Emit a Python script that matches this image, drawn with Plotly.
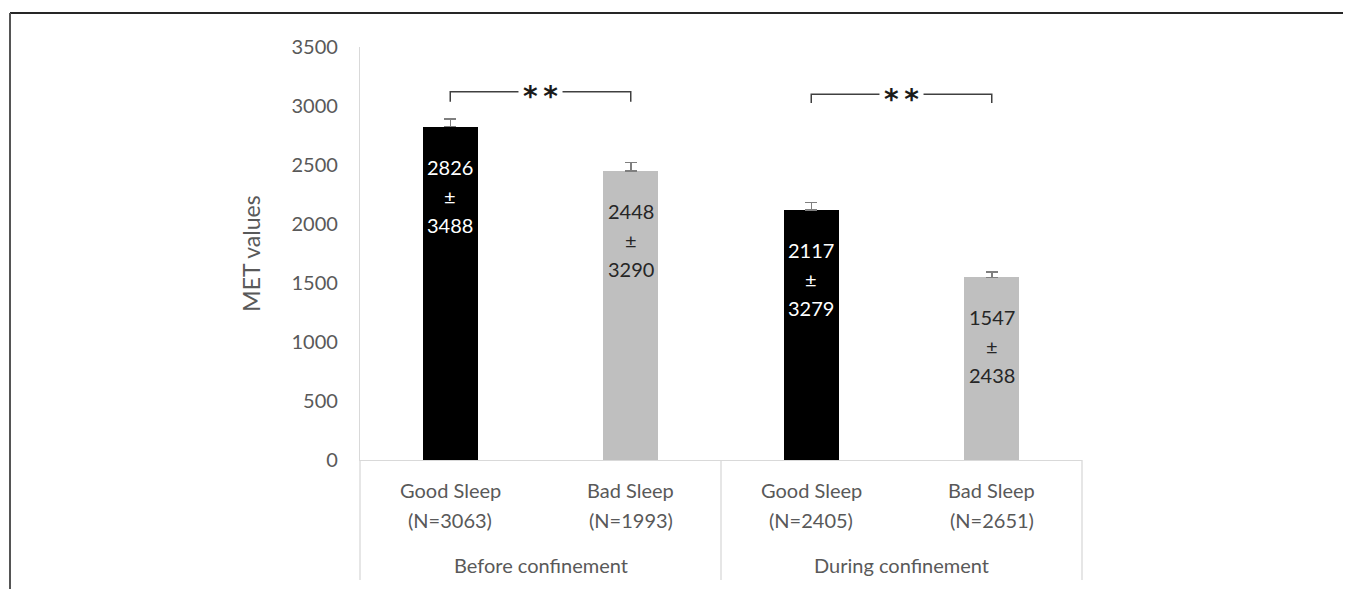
import plotly.graph_objects as go

# ---- data ----
groups = ["Before confinement", "During confinement"]
sleep_labels = ["Good Sleep", "Bad Sleep", "Good Sleep", "Bad Sleep"]
n_labels = ["(N=3063)", "(N=1993)", "(N=2405)", "(N=2651)"]
means = [2826, 2448, 2117, 1547]
sds = [3488, 3290, 3279, 2438]
err_plus = [63, 74, 67, 47]
bar_colors = ["#000000", "#bfbfbf", "#000000", "#bfbfbf"]
text_colors = ["#ffffff", "#262626", "#ffffff", "#262626"]
bracket_pairs = [(0, 1), (2, 3)]
bracket_top = [3120, 3100]
bracket_foot = [3035, 3025]
bracket_text = ["*\u2009*", "*\u2009*"]
y_ticks = [0, 500, 1000, 1500, 2000, 2500, 3000, 3500]

# ---- geometry (window pixels; page body has an 8px margin) ----
OFF = 8
WIN_W, WIN_H = 1351, 589
W, H = WIN_W - OFF, WIN_H - OFF
X0, X1, Y0, Y1 = 360, 1082, 47, 460   # plot area in window pixels
L, R = X0 - OFF, WIN_W - X1
T, B = Y0 - OFF, WIN_H - Y1
PW, PH = X1 - X0, Y1 - Y0


def px(x):
    return (x - X0) / PW


def py(y):
    return (Y1 - y) / PH


FONT = "Lato"
GREY = "#595959"
AXC = "#d9d9d9"

xs = list(range(len(means)))

fig = go.Figure(
    go.Bar(
        x=xs,
        y=means,
        width=0.305,
        marker=dict(color=bar_colors, line=dict(width=0)),
        error_y=dict(
            type="data",
            symmetric=False,
            array=err_plus,
            arrayminus=[0] * len(means),
            color="#7f7f7f",
            thickness=1.5,
            width=6,
        ),
        hoverinfo="skip",
    )
)

annotations = []
# text inside bars
for i, (m, s) in enumerate(zip(means, sds)):
    for txt, shift in ((str(m), -40), ("±", -69), (str(s), -98)):
        annotations.append(
            dict(
                x=i, y=m, xref="x", yref="y", text=txt, showarrow=False,
                yanchor="middle", xanchor="center", yshift=shift,
                font=dict(family=FONT, size=20, color=text_colors[i]),
            )
        )

# category labels
for i in xs:
    annotations.append(dict(x=i, y=py(490), xref="x", yref="paper", text=sleep_labels[i],
                            showarrow=False, yanchor="middle",
                            font=dict(family=FONT, size=20, color=GREY)))
    annotations.append(dict(x=i, y=py(520), xref="x", yref="paper", text=n_labels[i],
                            showarrow=False, yanchor="middle",
                            font=dict(family=FONT, size=20, color=GREY)))
for g, name in enumerate(groups):
    annotations.append(dict(x=2 * g + 0.5, y=py(565), xref="x", yref="paper", text=name,
                            showarrow=False, yanchor="middle",
                            font=dict(family=FONT, size=20, color=GREY)))

shapes = []
# significance brackets
for (a, b), top, foot, lab in zip(bracket_pairs, bracket_top, bracket_foot, bracket_text):
    shapes.append(dict(type="path", xref="x", yref="y",
                       path=f"M {a},{foot} L {a},{top} L {b},{top} L {b},{foot}",
                       line=dict(color="#404040", width=1.5)))
    shapes.append(dict(type="rect", xref="x", yref="y",
                       x0=(a + b) / 2 - 0.122, x1=(a + b) / 2 + 0.122,
                       y0=top - 20, y1=top + 20,
                       fillcolor="white", line=dict(width=0)))
    annotations.append(dict(x=(a + b) / 2, y=top, xref="x", yref="y",
                            text="<b>" + lab + "</b>", showarrow=False,
                            yanchor="middle", xanchor="center", yshift=-5,
                            font=dict(family="DejaVu Sans", size=28, color="#1a1a1a")))

# category axis dividers below the plot
for xv in (0, 0.5, 1):
    shapes.append(dict(type="line", xref="paper", yref="paper",
                       x0=xv, x1=xv, y0=0, y1=py(580),
                       line=dict(color=AXC, width=1.3)))

# outer frame (top and left)
shapes.append(dict(type="line", xref="paper", yref="paper",
                   x0=px(10), x1=px(WIN_W + 5), y0=py(13), y1=py(13),
                   line=dict(color="#262626", width=2)))
shapes.append(dict(type="line", xref="paper", yref="paper",
                   x0=px(10), x1=px(10), y0=py(13), y1=py(WIN_H + 5),
                   line=dict(color="#555555", width=2)))

fig.update_layout(
    width=W,
    height=H,
    margin=dict(l=L, r=R, t=T, b=B, pad=0),
    paper_bgcolor="white",
    plot_bgcolor="white",
    showlegend=False,
    bargap=0,
    annotations=annotations,
    shapes=shapes,
    xaxis=dict(
        range=[-0.5, 3.5],
        showline=True, linecolor=AXC, linewidth=1.3,
        showticklabels=False, showgrid=False, zeroline=False, ticks="",
        fixedrange=True,
    ),
    yaxis=dict(
        range=[0, 3500],
        tickvals=y_ticks,
        showline=True, linecolor=AXC, linewidth=1.3,
        showgrid=False, zeroline=False,
        ticks="outside", ticklen=17, tickcolor="rgba(0,0,0,0)",
        tickfont=dict(family=FONT, size=20, color=GREY),
        title=dict(text="MET values", standoff=24,
                   font=dict(family=FONT, size=23, color=GREY)),
        fixedrange=True,
    ),
)

fig.write_html("out.html")
